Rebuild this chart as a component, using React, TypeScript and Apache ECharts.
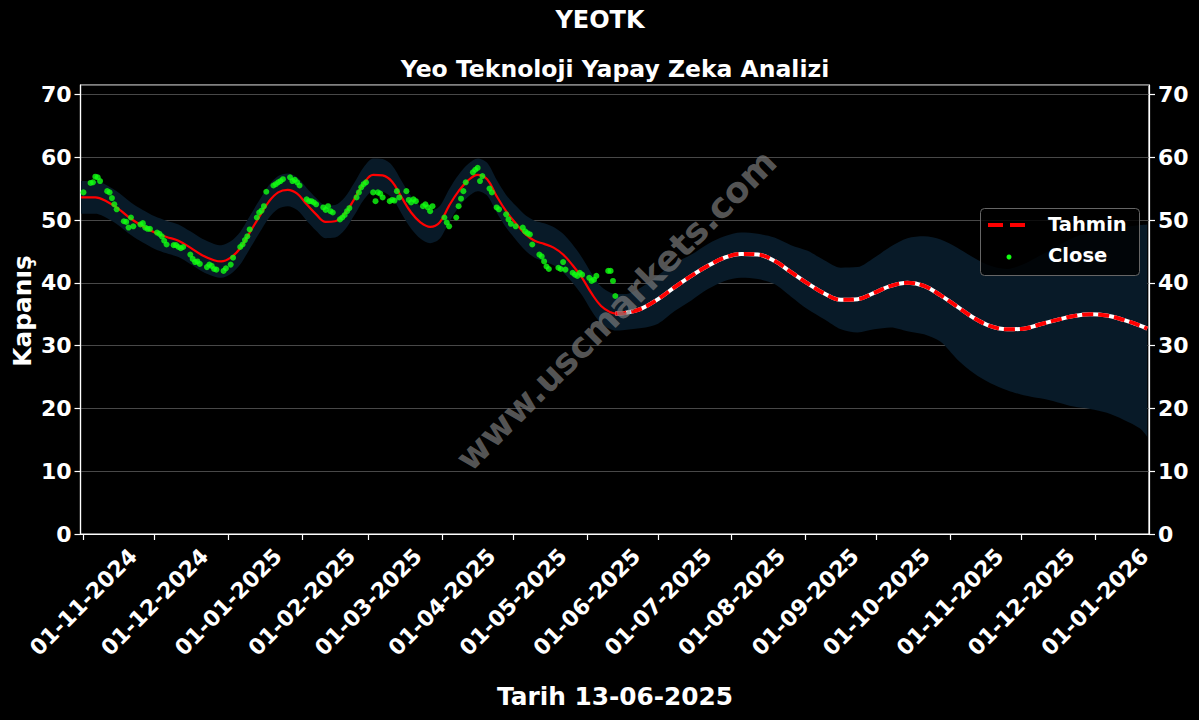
import React, { useEffect, useRef } from "react";
import * as echarts from "echarts";

const titleText = "YEOTK";
const subtitleText = "Yeo Teknoloji Yapay Zeka Analizi";
const xAxisTitle = "Tarih 13-06-2025";
const yAxisTitle = "Kapanış";
const watermarkText = "www.uscmarkets.com";
const legendForecast = "Tahmin";
const legendClose = "Close";

const yMin = 0;
const yMax = 71.5;
const yStep = 10;
const xMin = "2024-10-30 18:00:00";
const xMax = "2026-01-23 18:00:00";
const forecastStart = "2025-06-13";

// Close (green points), by month
const closeMonths = ["2024-11", "2024-12", "2025-01", "2025-02", "2025-03", "2025-04", "2025-05", "2025-06"];
const closeDays = [
  [1, 4, 5, 6, 7, 8, 11, 12, 13, 14, 15, 18, 19, 20, 21, 22, 25, 26, 27, 28, 29],
  [2, 3, 4, 5, 6, 9, 10, 11, 12, 13, 16, 17, 18, 19, 20, 23, 24, 25, 26, 27, 30, 31],
  [2, 3, 6, 7, 8, 9, 10, 13, 14, 15, 16, 17, 20, 21, 22, 23, 24, 27, 28, 29, 30, 31],
  [3, 4, 5, 6, 7, 10, 11, 12, 13, 14, 17, 18, 19, 20, 21, 24, 25, 26, 27, 28],
  [3, 4, 5, 6, 7, 10, 11, 12, 13, 14, 17, 18, 19, 20, 21, 24, 25, 26, 27, 28],
  [2, 3, 4, 7, 8, 9, 10, 11, 14, 15, 16, 17, 18, 21, 22, 24, 25, 28, 29, 30],
  [2, 5, 6, 7, 8, 9, 12, 13, 14, 15, 16, 20, 21, 22, 23, 26, 27, 28, 29, 30],
  [2, 3, 4, 5, 10, 11, 12, 13],
];
const closeValues = [
  [54.4, 55.9, 56.0, 56.9, 56.8, 56.2, 54.6, 54.4, 53.5, 52.5, 51.7, 49.8, 49.7, 48.8, 50.4, 49.0, 49.3, 49.5, 48.8, 48.6, 48.6],
  [48.0, 47.8, 47.4, 46.7, 46.1, 46.0, 46.0, 45.7, 45.5, 45.7, 44.5, 43.8, 43.3, 43.4, 43.0, 42.5, 42.9, 42.7, 42.2, 42.1, 41.9, 42.3],
  [42.9, 44.0, 45.7, 46.1, 46.8, 47.4, 48.5, 50.4, 51.2, 51.5, 52.2, 54.5, 55.5, 55.7, 56.0, 56.2, 56.5, 56.8, 56.2, 56.4, 56.0, 55.5],
  [53.3, 53.0, 53.0, 52.8, 52.5, 52.0, 51.6, 52.2, 51.4, 51.2, 50.1, 50.4, 50.8, 51.4, 51.9, 53.6, 54.4, 55.2, 55.7, 56.0],
  [54.4, 53.0, 54.4, 54.2, 53.6, 53.0, 53.2, 53.1, 54.6, 53.6, 54.6, 53.2, 52.8, 53.3, 53.0, 52.2, 52.5, 52.0, 51.4, 52.2],
  [50.4, 49.6, 49.0, 50.4, 52.2, 53.4, 54.6, 56.0, 57.6, 58.0, 58.3, 56.2, 57.0, 55.0, 54.4, 52.0, 51.7, 50.9, 50.1, 49.4],
  [49.0, 48.8, 48.2, 47.9, 47.7, 46.1, 44.5, 44.2, 43.4, 42.6, 42.2, 42.4, 42.2, 43.3, 42.1, 41.6, 41.3, 41.1, 41.6, 41.3],
  [40.8, 40.3, 40.5, 41.1, 41.9, 41.9, 40.3, 37.9],
];

// Model line (fit + forecast) and its band
const fitDates = [
  "2024-10-31", "2024-11-06", "2024-11-11", "2024-11-16", "2024-11-21", "2024-11-26",
  "2024-12-01", "2024-12-06", "2024-12-11", "2024-12-16", "2024-12-21", "2024-12-26", "2024-12-29",
  "2025-01-02", "2025-01-06", "2025-01-10", "2025-01-14", "2025-01-18", "2025-01-22", "2025-01-26", "2025-01-30",
  "2025-02-03", "2025-02-07", "2025-02-11", "2025-02-15", "2025-02-19", "2025-02-23", "2025-02-27",
  "2025-03-03", "2025-03-07", "2025-03-11", "2025-03-15", "2025-03-19", "2025-03-23", "2025-03-27", "2025-03-31",
  "2025-04-04", "2025-04-08", "2025-04-12", "2025-04-16", "2025-04-20", "2025-04-24", "2025-04-28",
  "2025-05-02", "2025-05-06", "2025-05-10", "2025-05-14", "2025-05-18", "2025-05-22", "2025-05-26", "2025-05-30",
  "2025-06-03", "2025-06-07", "2025-06-11", "2025-06-13",
  "2025-06-17", "2025-06-24",
  "2025-07-01", "2025-07-08", "2025-07-15", "2025-07-22", "2025-07-29",
  "2025-08-05", "2025-08-12", "2025-08-19", "2025-08-26",
  "2025-09-02", "2025-09-09", "2025-09-16", "2025-09-23", "2025-09-30",
  "2025-10-07", "2025-10-14", "2025-10-21", "2025-10-28",
  "2025-11-04", "2025-11-11", "2025-11-18", "2025-11-25",
  "2025-12-02", "2025-12-09", "2025-12-16", "2025-12-23", "2025-12-30",
  "2026-01-06", "2026-01-13", "2026-01-20", "2026-01-23",
];
const fitValues = [
  53.6, 53.6, 52.9, 51.7, 50.2, 49.0,
  48.0, 47.3, 46.7, 45.6, 44.4, 43.6, 43.4,
  44.0, 45.5, 48.0, 50.5, 52.9, 54.4, 54.8, 54.2,
  52.5, 50.9, 49.7, 49.8, 51.0, 53.3, 55.8,
  57.2, 57.1, 56.1, 53.6, 51.2, 49.6, 48.9, 49.6,
  52.3, 54.6, 56.3, 57.2, 56.5, 53.8, 51.4,
  49.5, 47.8, 46.7, 46.2, 45.6, 44.5, 42.8, 40.8,
  38.3, 36.3, 35.3, 35.1,
  35.2, 35.9,
  37.4, 39.3, 41.1, 42.7, 44.0,
  44.6, 44.5, 43.5, 41.7,
  39.9, 38.3, 37.3, 37.4, 38.4,
  39.5, 40.0, 39.5, 38.0,
  36.2, 34.4, 33.1, 32.6,
  32.7, 33.4, 34.1, 34.7, 35.0,
  34.8, 34.1, 33.2, 32.7,
];
const bandUpper = [
  56.2, 56.2, 55.5, 54.3, 52.8, 51.6,
  50.6, 49.9, 49.3, 48.2, 47.0, 46.2, 46.0,
  46.6, 48.1, 50.6, 53.1, 55.5, 57.0, 57.4, 56.8,
  55.1, 53.5, 52.3, 52.4, 53.6, 55.9, 58.4,
  59.8, 59.7, 58.7, 56.2, 53.8, 52.2, 51.5, 52.2,
  54.9, 57.2, 58.9, 59.8, 59.1, 56.4, 54.0,
  52.3, 50.8, 49.9, 49.5, 48.9, 47.8, 46.1, 44.0,
  41.5, 39.4, 38.4, 38.2,
  38.2, 39.3,
  41.2, 43.1, 44.5, 46.2, 47.4,
  48.0, 47.8, 47.2, 46.0,
  45.1, 43.6, 42.4, 42.5, 44.0,
  45.8, 47.1, 47.4, 46.9,
  45.6, 44.0, 42.7, 42.2,
  43.0, 44.4, 45.8, 47.2, 48.0,
  48.5, 48.9, 49.2, 49.3,
];
const bandLower = [
  51.0, 51.0, 50.3, 49.1, 47.6, 46.4,
  45.4, 44.7, 44.1, 43.0, 41.8, 41.0, 40.8,
  41.4, 42.9, 45.4, 47.9, 50.3, 51.8, 52.2, 51.6,
  49.9, 48.3, 47.1, 47.2, 48.4, 50.7, 53.2,
  54.6, 54.5, 53.5, 51.0, 48.6, 47.0, 46.3, 47.0,
  49.7, 52.0, 53.7, 54.6, 53.9, 51.2, 48.8,
  46.9, 45.2, 44.0, 43.4, 42.8, 41.7, 40.0, 38.0,
  35.5, 33.5, 32.6, 32.4,
  32.5, 32.8,
  33.5, 35.5, 37.2, 39.0, 40.3,
  40.8, 40.6, 39.8, 37.8,
  35.8, 34.2, 32.6, 32.1, 32.6,
  32.9, 32.3, 31.8, 30.6,
  27.8, 25.6, 24.0, 22.9,
  22.1, 21.6, 21.0, 20.3, 19.9,
  19.3, 18.2, 16.8, 15.5,
];

const FONT = '"DejaVu Sans", "Liberation Sans", sans-serif';
const pad = (n: number) => (n < 10 ? "0" + n : String(n));

export default function App() {
  const ref = useRef<HTMLDivElement>(null);

  useEffect(() => {
    document.body.style.margin = "0";
    document.body.style.background = "#000";
    if (!ref.current) return;
    const chart = echarts.init(ref.current, null, { renderer: "svg" });

    const closeData: [string, number][] = [];
    closeMonths.forEach((m, i) => {
      closeDays[i].forEach((d, j) => closeData.push([`${m}-${pad(d)}`, closeValues[i][j]]));
    });

    const splitIdx = fitDates.indexOf(forecastStart);
    const histData = fitDates.slice(0, splitIdx + 1).map((d, i) => [d, fitValues[i]]);
    const fcData = fitDates.slice(splitIdx).map((d, i) => [d, fitValues[splitIdx + i]]);
    const lowerData = fitDates.map((d, i) => [d, bandLower[i]]);
    const diffData = fitDates.map((d, i) => [d, +(bandUpper[i] - bandLower[i]).toFixed(2)]);

    const yAxisCommon = {
      type: "value",
      min: yMin,
      max: yMax,
      interval: yStep,
      axisLine: { show: true, lineStyle: { color: "#ffffff", width: 1.2 } },
      axisTick: { show: true, length: 6, lineStyle: { color: "#ffffff", width: 1.2 } },
      axisLabel: {
        color: "#ffffff",
        fontWeight: "bold",
        fontSize: 22,
        fontFamily: FONT,
        margin: 9,
        showMaxLabel: false,
        formatter: (v: number) => (v % yStep === 0 ? String(v) : ""),
      },
    };

    const LZ = 60;
    const option: any = {
      animation: false,
      backgroundColor: "#000000",
      grid: {
        left: 80.5,
        right: 50,
        top: 85,
        bottom: 186,
        show: true,
        borderColor: "#ffffff",
        borderWidth: 1.2,
        backgroundColor: "transparent",
        containLabel: false,
      },
      xAxis: {
        type: "time",
        min: xMin,
        max: xMax,
        splitNumber: 15,
        minInterval: 28 * 86400000,
        maxInterval: 31 * 86400000,
        axisLine: { show: true, lineStyle: { color: "#ffffff", width: 1.2 } },
        axisTick: { show: true, length: 6, lineStyle: { color: "#ffffff", width: 1.2 } },
        splitLine: { show: false },
        axisLabel: {
          color: "#ffffff",
          fontWeight: "bold",
          fontSize: 22,
          fontFamily: FONT,
          rotate: 45,
          align: "center",
          verticalAlign: "middle",
          margin: 68,
          hideOverlap: false,
          formatter: (val: number) => {
            const d = new Date(val);
            if (d.getDate() !== 1 || d.getHours() !== 0) return "";
            return `${pad(d.getDate())}-${pad(d.getMonth() + 1)}-${d.getFullYear()}`;
          },
        },
      },
      yAxis: [
        { ...yAxisCommon, position: "left", splitLine: { show: true, lineStyle: { color: "#5a5a5a", width: 0.8 } } },
        { ...yAxisCommon, position: "right", splitLine: { show: false } },
      ],
      series: [
        {
          name: "bandLower",
          type: "line",
          data: lowerData,
          stack: "band",
          smooth: 0.3,
          symbol: "none",
          lineStyle: { opacity: 0 },
          silent: true,
          z: 1,
        },
        {
          name: "bandWidth",
          type: "line",
          data: diffData,
          stack: "band",
          smooth: 0.3,
          symbol: "none",
          lineStyle: { opacity: 0 },
          areaStyle: { color: "#081a28", opacity: 1 },
          silent: true,
          z: 1,
        },
        {
          name: "fit",
          type: "line",
          data: histData,
          smooth: 0.4,
          symbol: "none",
          lineStyle: { color: "#ff0000", width: 2.2 },
          z: 3,
        },
        {
          name: "forecastBase",
          type: "line",
          data: fcData,
          smooth: 0.4,
          symbol: "none",
          lineStyle: { color: "#ffffff", width: 4 },
          z: 3,
        },
        {
          name: legendForecast,
          type: "line",
          data: fcData,
          smooth: 0.4,
          symbol: "none",
          lineStyle: { color: "#ff0000", width: 4, type: [11, 5] },
          z: 4,
        },
        {
          name: legendClose,
          type: "scatter",
          data: closeData,
          symbol: "circle",
          symbolSize: 6,
          itemStyle: { color: "#11ff11" },
          z: 5,
        },
      ],
      graphic: [
        {
          type: "text",
          x: 600,
          y: 20,
          style: { text: titleText, fill: "#ffffff", font: `bold 24px ${FONT}`, textAlign: "center", textVerticalAlign: "middle" },
        },
        {
          type: "text",
          x: 615,
          y: 69,
          style: { text: subtitleText, fill: "#ffffff", font: `bold 23.5px ${FONT}`, textAlign: "center", textVerticalAlign: "middle" },
        },
        {
          type: "text",
          x: 615,
          y: 696,
          style: { text: xAxisTitle, fill: "#ffffff", font: `bold 24.8px ${FONT}`, textAlign: "center", textVerticalAlign: "middle" },
        },
        {
          type: "text",
          x: 22,
          y: 311,
          rotation: Math.PI / 2,
          style: { text: yAxisTitle, fill: "#ffffff", font: `bold 24.8px ${FONT}`, textAlign: "center", textVerticalAlign: "middle" },
        },
        {
          type: "text",
          x: 616,
          y: 310,
          rotation: Math.PI / 4,
          z: 50,
          style: { text: watermarkText, fill: "rgba(128,128,128,0.68)", font: `bold 35.5px ${FONT}`, textAlign: "center", textVerticalAlign: "middle" },
        },
        {
          type: "rect",
          z: LZ,
          shape: { x: 980.5, y: 208.5, width: 159, height: 67, r: 4 },
          style: { fill: "rgba(0,0,0,0.8)", stroke: "#666666", lineWidth: 1 },
        },
        {
          type: "line",
          z: LZ + 1,
          shape: { x1: 988, y1: 225, x2: 1026, y2: 225 },
          style: { stroke: "#ff0000", lineWidth: 4, lineDash: [15, 7] },
        },
        {
          type: "circle",
          z: LZ + 1,
          shape: { cx: 1009, cy: 257, r: 2.5 },
          style: { fill: "#11ff11" },
        },
        {
          type: "text",
          z: LZ + 1,
          x: 1048,
          y: 224.5,
          style: { text: legendForecast, fill: "#ffffff", font: `bold 19.5px ${FONT}`, textAlign: "left", textVerticalAlign: "middle" },
        },
        {
          type: "text",
          z: LZ + 1,
          x: 1048,
          y: 255,
          style: { text: legendClose, fill: "#ffffff", font: `bold 19.5px ${FONT}`, textAlign: "left", textVerticalAlign: "middle" },
        },
      ],
    };

    chart.setOption(option);
    return () => chart.dispose();
  }, []);

  return <div ref={ref} style={{ width: 1199, height: 720, background: "#000" }} />;
}
